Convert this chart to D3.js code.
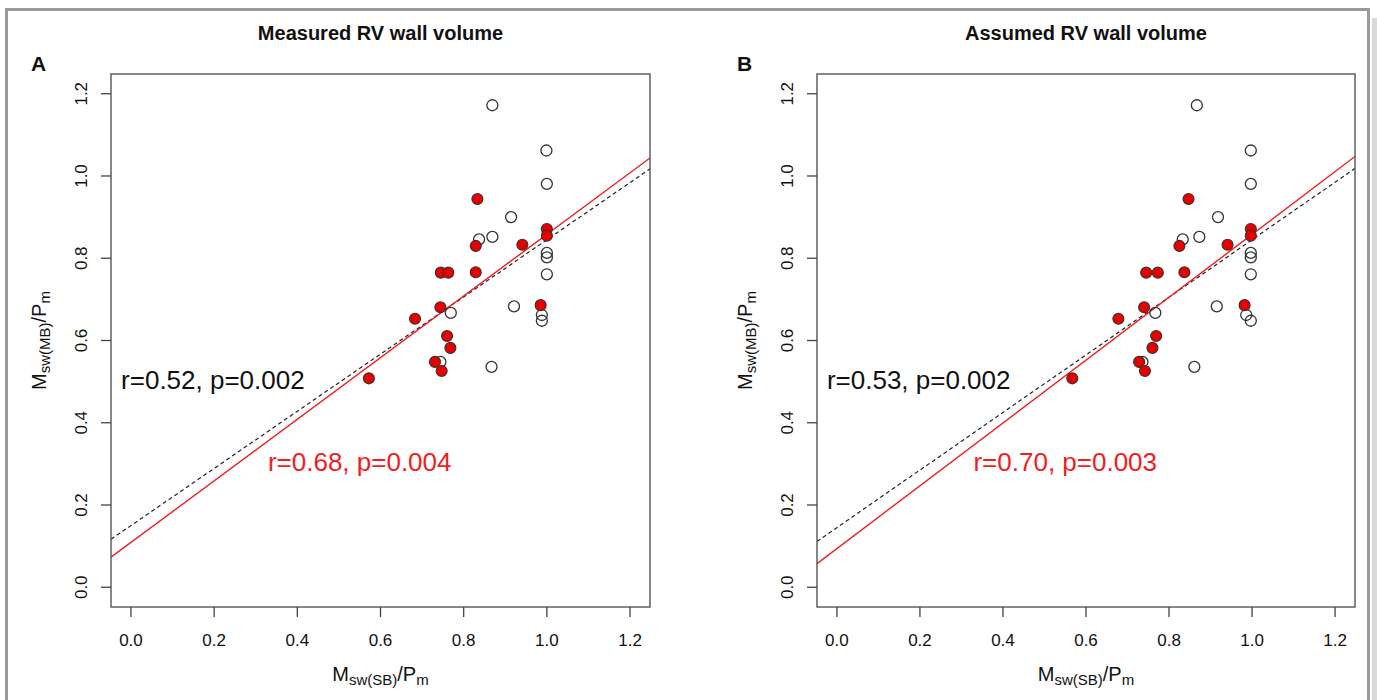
<!DOCTYPE html>
<html lang="en">

<head>
    <meta charset="UTF-8">
    <script src="https://d3js.org/d3.v7.min.js"></script>
    <style>
        body {
            margin: 0;
            background: white;
        }

        text {
            font-family: "Liberation Sans", Arial, sans-serif;
            fill: #111;
        }

        .title {
            font-size: 20px;
            font-weight: bold;
            text-anchor: middle;
        }

        .panel-letter {
            font-size: 21px;
            font-weight: bold;
        }

        .tick-label {
            font-size: 17px;
            text-anchor: middle;
        }

        .axis-label {
            font-size: 20px;
            text-anchor: middle;
        }

        .stat {
            font-size: 26px;
            text-anchor: middle;
        }
    </style>
</head>

<body>
    <svg id="chart" width="1377" height="700"></svg>

    <script>
        // tick values shared by both axes
        const ticks = [0.0, 0.2, 0.4, 0.6, 0.8, 1.0, 1.2];

        // panel A - measured RV wall volume
        const aOpenX = [0.869, 0.999, 1.0, 0.914, 0.837, 0.869, 1.0, 1.0, 1.0, 0.921, 0.769, 0.988, 0.988, 0.744, 0.867];
        const aOpenY = [1.172, 1.062, 0.981, 0.900, 0.846, 0.852, 0.813, 0.802, 0.761, 0.683, 0.667, 0.662, 0.648, 0.548, 0.536];
        const aRedX = [0.833, 1.0, 1.0, 0.829, 0.941, 0.745, 0.763, 0.829, 0.744, 0.683, 0.985, 0.760, 0.768, 0.731, 0.747, 0.572];
        const aRedY = [0.944, 0.871, 0.855, 0.830, 0.833, 0.765, 0.765, 0.766, 0.681, 0.653, 0.686, 0.611, 0.582, 0.548, 0.526, 0.508];

        // panel B - assumed RV wall volume
        const bOpenX = [0.867, 0.997, 0.997, 0.918, 0.833, 0.873, 0.997, 0.997, 0.997, 0.915, 0.767, 0.986, 0.997, 0.736, 0.861];
        const bOpenY = [1.172, 1.062, 0.981, 0.900, 0.846, 0.852, 0.813, 0.802, 0.761, 0.683, 0.667, 0.662, 0.648, 0.548, 0.536];
        const bRedX = [0.847, 0.997, 0.997, 0.825, 0.941, 0.745, 0.773, 0.837, 0.740, 0.678, 0.982, 0.769, 0.760, 0.728, 0.742, 0.567];
        const bRedY = [0.944, 0.871, 0.855, 0.830, 0.833, 0.765, 0.765, 0.766, 0.681, 0.653, 0.686, 0.611, 0.582, 0.548, 0.526, 0.508];

        // regression lines [intercept, slope]
        const aFitAll = [0.150, 0.695];
        const aFitRed = [0.109, 0.749];
        const bFitAll = [0.145, 0.700];
        const bFitRed = [0.094, 0.764];

        const svg = d3.select("#chart");

        // outer frame of the figure
        svg.append("rect")
            .attr("x", 1372).attr("y", 18)
            .attr("width", 5).attr("height", 700)
            .attr("fill", "#ddd8d8");
        svg.append("rect")
            .attr("x", 6.5).attr("y", 9.5)
            .attr("width", 1362).attr("height", 720)
            .attr("fill", "none")
            .attr("stroke", "#9a9a9a")
            .attr("stroke-width", 3);

        function drawPanel(opts) {
            const g = svg.append("g");
            const left = opts.left, right = opts.right, top = 74, bottom = 607;

            // R style axes: 4% padding around 0..1.2
            const x = d3.scaleLinear().domain([-0.048, 1.248]).range([left, right]);
            const y = d3.scaleLinear().domain([-0.048, 1.248]).range([bottom, top]);

            const clipId = "clip-" + opts.letter;
            g.append("clipPath").attr("id", clipId)
                .append("rect")
                .attr("x", left).attr("y", top)
                .attr("width", right - left).attr("height", bottom - top);

            // regression lines
            const line = d3.line().x(d => x(d[0])).y(d => y(d[1]));
            const ends = [-0.048, 1.248];
            g.append("path")
                .attr("clip-path", `url(#${clipId})`)
                .attr("d", line(ends.map(v => [v, opts.fitAll[0] + opts.fitAll[1] * v])))
                .attr("fill", "none")
                .attr("stroke", "#222")
                .attr("stroke-width", 1.2)
                .attr("stroke-dasharray", "4,3");
            g.append("path")
                .attr("clip-path", `url(#${clipId})`)
                .attr("d", line(ends.map(v => [v, opts.fitRed[0] + opts.fitRed[1] * v])))
                .attr("fill", "none")
                .attr("stroke", "#f21d1d")
                .attr("stroke-width", 1.4);

            // open circles
            g.selectAll("circle.open")
                .data(d3.zip(opts.openX, opts.openY))
                .join("circle")
                .attr("class", "open")
                .attr("cx", d => x(d[0]))
                .attr("cy", d => y(d[1]))
                .attr("r", 5.5)
                .attr("fill", "none")
                .attr("stroke", "#333")
                .attr("stroke-width", 1.3);

            // filled red circles
            g.selectAll("circle.red")
                .data(d3.zip(opts.redX, opts.redY))
                .join("circle")
                .attr("class", "red")
                .attr("cx", d => x(d[0]))
                .attr("cy", d => y(d[1]))
                .attr("r", 5.5)
                .attr("fill", "#e80000")
                .attr("stroke", "#333")
                .attr("stroke-width", 1.1);

            // plot box
            g.append("rect")
                .attr("x", left).attr("y", top)
                .attr("width", right - left).attr("height", bottom - top)
                .attr("fill", "none")
                .attr("stroke", "#555")
                .attr("stroke-width", 1.4);

            // x ticks
            g.selectAll("line.xt")
                .data(ticks)
                .join("line")
                .attr("class", "xt")
                .attr("x1", d => x(d)).attr("x2", d => x(d))
                .attr("y1", bottom).attr("y2", bottom + 10)
                .attr("stroke", "#444").attr("stroke-width", 1.3);
            g.selectAll("text.xtl")
                .data(ticks)
                .join("text")
                .attr("class", "tick-label xtl")
                .attr("x", d => x(d))
                .attr("y", bottom + 39)
                .text(d => d.toFixed(1));

            // y ticks
            g.selectAll("line.yt")
                .data(ticks)
                .join("line")
                .attr("class", "yt")
                .attr("x1", left - 10).attr("x2", left)
                .attr("y1", d => y(d)).attr("y2", d => y(d))
                .attr("stroke", "#444").attr("stroke-width", 1.3);
            g.selectAll("text.ytl")
                .data(ticks)
                .join("text")
                .attr("class", "tick-label ytl")
                .attr("transform", d => `translate(${left - 24},${y(d)}) rotate(-90)`)
                .text(d => d.toFixed(1));

            // titles
            g.append("text")
                .attr("class", "title")
                .attr("x", (left + right) / 2)
                .attr("y", 40)
                .text(opts.title);
            g.append("text")
                .attr("class", "panel-letter")
                .attr("x", left - 80)
                .attr("y", 71)
                .text(opts.letter);

            // x axis label
            const xl = g.append("text")
                .attr("class", "axis-label")
                .attr("x", (left + right) / 2)
                .attr("y", 681);
            xl.append("tspan").text("M");
            xl.append("tspan").attr("dy", 4).style("font-size", "15px").text("sw(SB)");
            xl.append("tspan").attr("dy", -4).text("/P");
            xl.append("tspan").attr("dy", 4).style("font-size", "15px").text("m");

            // y axis label
            const yl = g.append("text")
                .attr("class", "axis-label")
                .attr("transform", `translate(${left - 65},${(top + bottom) / 2}) rotate(-90)`);
            yl.append("tspan").text("M");
            yl.append("tspan").attr("dy", 4).style("font-size", "15px").text("sw(MB)");
            yl.append("tspan").attr("dy", -4).text("/P");
            yl.append("tspan").attr("dy", 4).style("font-size", "15px").text("m");

            // correlation text
            g.append("text")
                .attr("class", "stat")
                .attr("x", x(opts.statAll[0]))
                .attr("y", y(opts.statAll[1]) + 9)
                .text(opts.statAll[2]);
            g.append("text")
                .attr("class", "stat")
                .attr("x", x(opts.statRed[0]))
                .attr("y", y(opts.statRed[1]) + 9)
                .style("fill", "#f21d1d")
                .text(opts.statRed[2]);
        }

        drawPanel({
            letter: "A", title: "Measured RV wall volume", left: 111, right: 650,
            openX: aOpenX, openY: aOpenY, redX: aRedX, redY: aRedY,
            fitAll: aFitAll, fitRed: aFitRed,
            statAll: [0.197, 0.503, "r=0.52, p=0.002"],
            statRed: [0.55, 0.304, "r=0.68, p=0.004"]
        });

        drawPanel({
            letter: "B", title: "Assumed RV wall volume", left: 817, right: 1355,
            openX: bOpenX, openY: bOpenY, redX: bRedX, redY: bRedY,
            fitAll: bFitAll, fitRed: bFitRed,
            statAll: [0.197, 0.503, "r=0.53, p=0.002"],
            statRed: [0.55, 0.304, "r=0.70, p=0.003"]
        });
    </script>
</body>

</html>
